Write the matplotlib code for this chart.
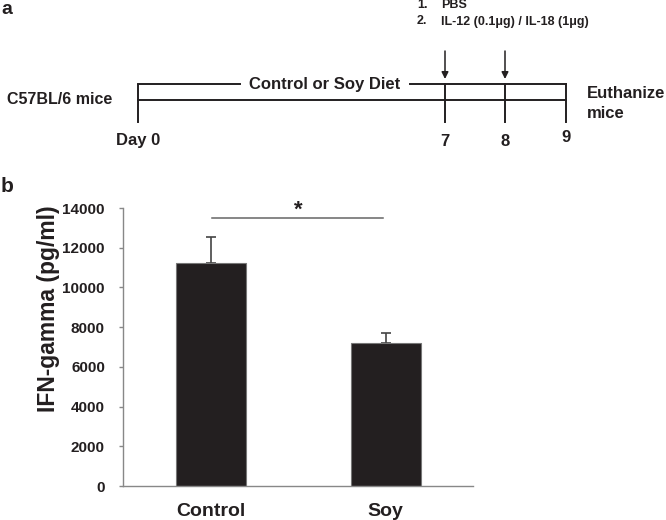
import matplotlib
matplotlib.use("Agg")
import matplotlib.pyplot as plt

plt.rcParams['font.family'] = ['Liberation Sans', 'DejaVu Sans']
plt.rcParams['font.weight'] = 'bold'

# ---- data ----
groups = ["Control", "Soy"]
ifn_mean = [11250, 7200]
ifn_err = [1280, 530]
yticks = [0, 2000, 4000, 6000, 8000, 10000, 12000, 14000]

# timeline (panel a)
timeline_days = ["Day 0", "7", "8", "9"]
timeline_x = [138, 445, 505, 566]   # pixel positions of day markers
arrow_days_idx = [1, 2]
treatments = ["1.", "2."]
treatment_text = ["PBS", "IL-12 (0.1\u03bcg) / IL-18 (1\u03bcg)"]

W, H = 666, 520
fig = plt.figure(figsize=(W / 100, H / 100), dpi=100)

# ---------- panel a (pixel-coordinate overlay) ----------
ov = fig.add_axes([0, 0, 1, 1])
ov.set_xlim(0, W)
ov.set_ylim(H, 0)
ov.axis('off')

lc = '#231f20'
lw = 1.4
y_main, y_top, y_bot = 100, 84, 122
ov.plot([timeline_x[0], timeline_x[-1]], [y_main, y_main], color=lc, lw=lw)
ov.plot([timeline_x[0], 240], [y_top, y_top], color=lc, lw=lw)
ov.plot([410, timeline_x[-1]], [y_top, y_top], color=lc, lw=lw)
for i, x in enumerate(timeline_x):
    top = y_top if i > 0 else 85
    ov.plot([x, x], [top, y_bot], color=lc, lw=lw)
ov.text(325, y_top, "Control or Soy Diet", ha='center', va='center',
        fontsize=12, fontweight='bold', color=lc)
for i in arrow_days_idx:
    x = timeline_x[i]
    ov.annotate("", xy=(x, 79), xytext=(x, 51),
                arrowprops=dict(arrowstyle='-|>', color=lc, lw=1.1,
                                mutation_scale=10, shrinkA=0, shrinkB=0))
ov.text(7, y_main, "C57BL/6 mice", ha='left', va='center', fontsize=11.5,
        fontweight='bold', color=lc)
label_y = [140, 142, 141, 138]
for x, lab, yy in zip(timeline_x, timeline_days, label_y):
    ov.text(x, yy, lab, ha='center', va='center', fontsize=12,
            fontweight='bold', color=lc)
ov.text(587, 94, "Euthanize", ha='left', va='center', fontsize=12,
        fontweight='bold', color=lc)
ov.text(587, 113, "mice", ha='left', va='center', fontsize=12,
        fontweight='bold', color=lc)
for j, (n, t) in enumerate(zip(treatments, treatment_text)):
    yy = 5.5 + j * 16
    ov.text(417, yy, n, ha='left', va='center', fontsize=9,
            fontweight='bold', color=lc)
    ov.text(441, yy, t, ha='left', va='center', fontsize=9,
            fontweight='bold', color=lc)
ov.text(1, 0.5, "a", ha='left', va='top', fontsize=14, fontweight='bold', color=lc)
ov.text(1, 187, "b", ha='left', va='center', fontsize=15, fontweight='bold', color=lc)

# ---------- panel b (bar chart) ----------
ax = fig.add_axes([123 / W, 1 - 486 / H, (473 - 123) / W, (486 - 208) / H])
xpos = list(range(len(groups)))
ax.bar(xpos, ifn_mean, width=0.4, color='#231f20', edgecolor='#777777',
       linewidth=0.8, zorder=2)
ax.errorbar(xpos, ifn_mean, yerr=[[0] * len(ifn_err), ifn_err], fmt='none',
            ecolor='#444444', elinewidth=1.2, capsize=3.5, capthick=1.2, zorder=1)
ax.set_xlim(-0.5, 1.5)
ax.set_ylim(0, 14000)
ax.set_yticks(yticks)
ax.set_yticklabels([str(v) for v in yticks], fontsize=11, fontweight='bold', color=lc)
ax.set_xticks(xpos)
ax.set_xticklabels(groups, fontsize=14, fontweight='bold', color=lc)
ax.tick_params(axis='x', length=0, pad=12)
ax.tick_params(axis='y', length=3, width=1, color='#888888', pad=10, direction='out')
for s in ['top', 'right']:
    ax.spines[s].set_visible(False)
for s in ['left', 'bottom']:
    ax.spines[s].set_color('#888888')
    ax.spines[s].set_linewidth(1)
ax.set_ylabel("IFN-gamma (pg/ml)", fontsize=16.5, fontweight='bold', color=lc)
ax.yaxis.set_label_coords(-0.18, 0.637)

# significance
ax.plot([0.01, 0.985], [13500, 13500], color='#666666', lw=1.1, clip_on=False)
ax.text(0.5, 13350, "*", ha='center', va='bottom', fontsize=16,
        fontweight='bold', color=lc, clip_on=False)

fig.savefig("out.png", dpi=100)
